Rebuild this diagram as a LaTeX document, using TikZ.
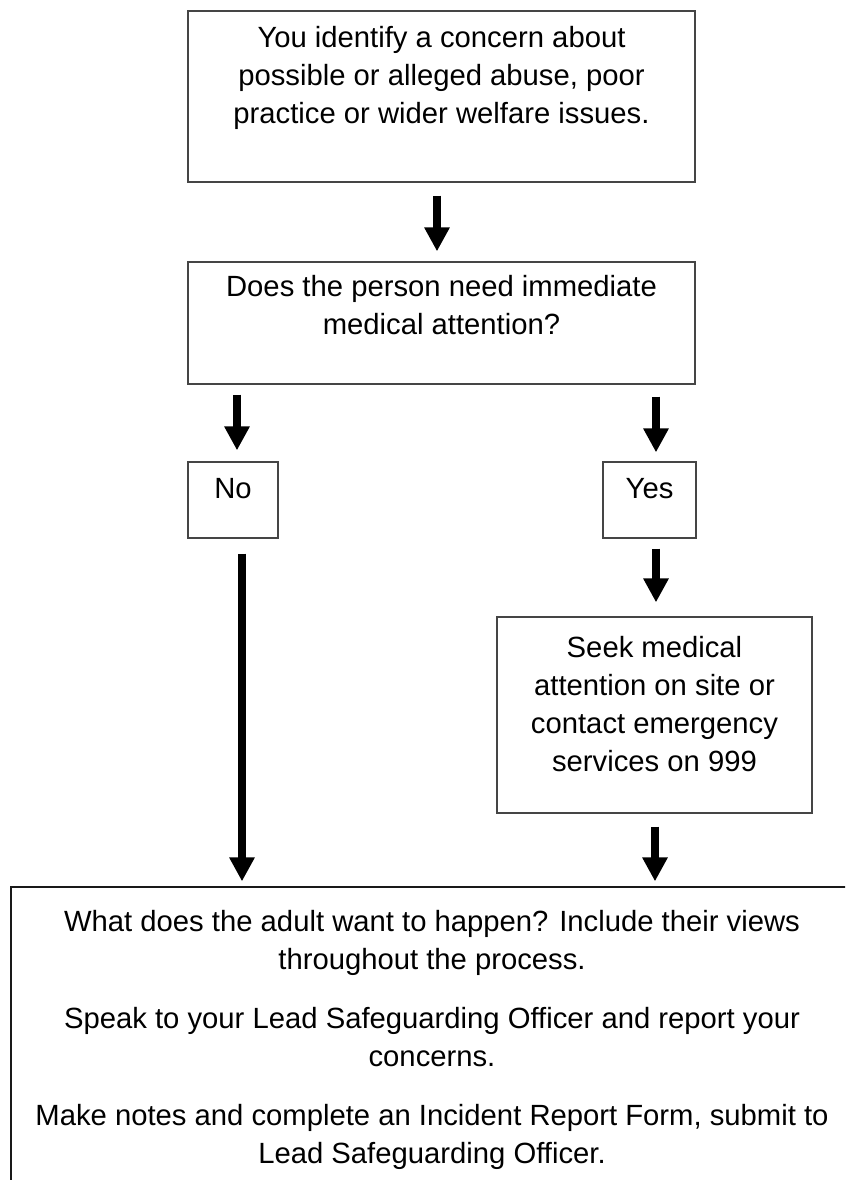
\documentclass[tikz,border=0pt]{standalone}
\usepackage{fontspec}
\setmainfont{Liberation Sans}
\usetikzlibrary{arrows.meta}

\begin{document}
\begin{tikzpicture}[
  box/.style={shape=rectangle,draw=cv0,line width=0.9pt,inner sep=0pt},
  lbl/.style={text=clv0,inner sep=0pt,anchor=north,align=center,font=\fontsize{20.8}{27}\selectfont},
  bigarrow/.style={line width=0.2cm,color=ce,-{Triangle[width=0.6cm,length=0.6cm]}}]
\definecolor{cv0}{rgb}{0.27,0.27,0.27}
\definecolor{cv5}{rgb}{0.1,0.1,0.1}
\definecolor{clv0}{rgb}{0.0,0.0,0.0}
\definecolor{ce}{rgb}{0.0,0.0,0.0}
%
\clip (0cm,0cm) rectangle (21.125cm,-29.5cm);
%
\node[box,minimum width=12.675cm,minimum height=4.275cm] (v0) at (11.0375cm,-2.4125cm) {};
\node[box,minimum width=12.675cm,minimum height=3.05cm] (v1) at (11.0375cm,-8.075cm) {};
\node[box,minimum width=2.25cm,minimum height=1.9cm] (v2) at (5.825cm,-12.5cm) {};
\node[box,minimum width=2.325cm,minimum height=1.9cm] (v3) at (16.2375cm,-12.5cm) {};
\node[box,minimum width=7.875cm,minimum height=4.9cm] (v4) at (16.3625cm,-17.875cm) {};
\node[box,draw=cv5,minimum width=21.05cm,minimum height=7.825cm] (v5) at (10.8cm,-26.0875cm) {};
%
\node[lbl] (t0) at (11.0375cm,-0.65cm) {You identify a concern about\\possible or alleged abuse, poor\\practice or wider welfare issues.};
\node[lbl] (t1) at (11.0375cm,-6.875cm) {Does the person need immediate\\medical attention?};
\node[lbl] (t2) at (5.825cm,-11.95cm) {No};
\node[lbl] (t3) at (16.2375cm,-11.95cm) {Yes};
\node[lbl] (t4) at (16.3625cm,-15.9cm) {Seek medical\\attention on site or\\contact emergency\\services on 999};
\node[lbl] (t5) at (10.8cm,-22.75cm) {What does the adult want to happen? Include their views\\throughout the process.\\[0.525cm]Speak to your Lead Safeguarding Officer and report your\\concerns.\\[0.525cm]Make notes and complete an Incident Report Form, submit to\\Lead Safeguarding Officer.};
%
\draw[bigarrow,shorten <=0.325cm,shorten >=0.25cm] ([xshift=-0.1125cm]v0.south) -- ([xshift=-0.1125cm]v1.north);
\draw[bigarrow,shorten <=0.25cm,shorten >=0.275cm] ([xshift=0.1cm]v2.north |- v1.south) -- ([xshift=0.1cm]v2.north);
\draw[bigarrow,shorten <=0.3cm,shorten >=0.225cm] ([xshift=0.1625cm]v3.north |- v1.south) -- ([xshift=0.1625cm]v3.north);
\draw[bigarrow,shorten <=0.25cm,shorten >=0.35cm] ([xshift=0.1625cm]v3.south) -- ([xshift=0.1625cm]v3.south |- v4.north);
\draw[bigarrow,shorten <=0.325cm,shorten >=0.125cm] ([xshift=0.0125cm]v4.south) -- ([xshift=0.0125cm]v4.south |- v5.north);
\draw[bigarrow,shorten <=0.375cm,shorten >=0.125cm] ([xshift=0.225cm]v2.south) -- ([xshift=0.225cm]v2.south |- v5.north);
%
\end{tikzpicture}
\end{document}
